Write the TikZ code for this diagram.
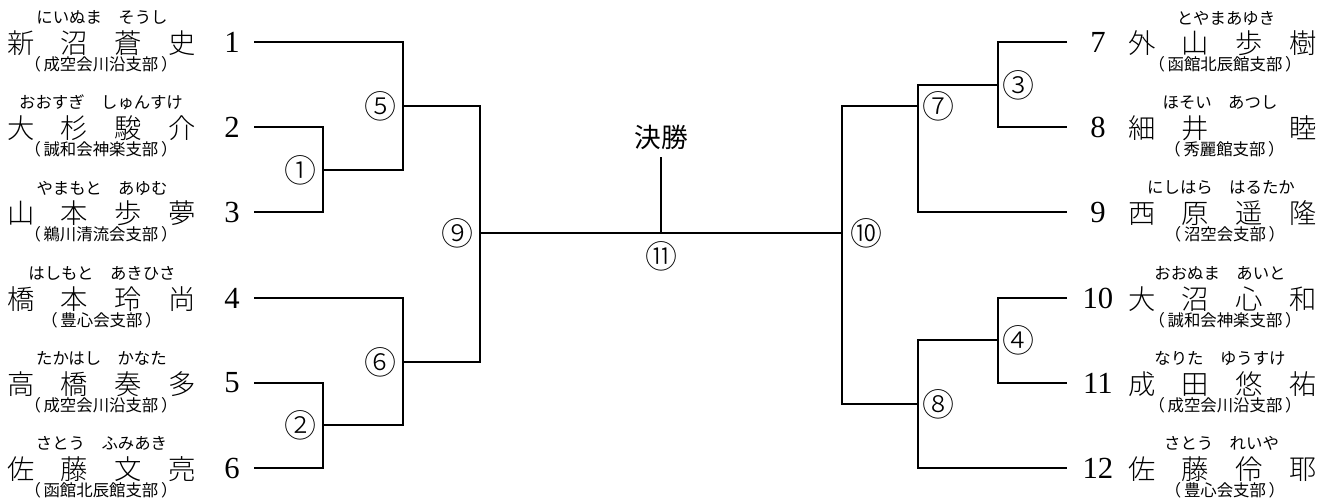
\documentclass[tikz,border=0pt]{standalone}
\usepackage{fontspec}
\newfontfamily\jpfont{Noto Sans CJK JP}
\newfontfamily\jplight{Noto Sans CJK JP Light}
\newfontfamily\numfont{Liberation Serif}
\usetikzlibrary{positioning}

\tikzset{every picture/.style={line width=1.4pt}}
\tikzset{
  num/.style={inner sep=0pt, minimum width=31.5pt, font=\numfont\fontsize{23}{23}\selectfont},
  namebox/.style={inner sep=0pt, font=\jplight\fontsize{20.5}{20.5}\selectfont},
  kana/.style={inner sep=0pt, font=\jpfont\fontsize{12.3}{12.3}\selectfont},
  team/.style={inner sep=0pt, font=\jpfont\fontsize{12.3}{12.3}\selectfont},
  rnd/.style={inner sep=0pt, font=\jplight\fontsize{24}{24}\selectfont},
  finalbox/.style={inner sep=0pt, font=\jpfont\fontsize{20}{20}\selectfont},
}
\newcommand\fourchars[4]{\makebox[40.3pt]{#1}\makebox[40.3pt]{#2}\makebox[40.3pt]{#3}\makebox[40.3pt]{#4}}
\newcommand\club[1]{（\hspace{2pt}#1\hspace{2pt}）}

\begin{document}
\begin{tikzpicture}[x=0.75pt,y=0.75pt,yscale=-1,xscale=1]
\path[use as bounding box] (0,0) rectangle (1336,503);

% Left players
\node[num, anchor=east] (p1) at (254,42) {1};
\node[namebox] (n1) at (101.5,43) {\fourchars{新}{沼}{蒼}{史}};
\node[kana] (k1) at (102,17) {にいぬま　そうし};
\node[team] (t1) at (101,64) {\club{成空会川沿支部}};

\node[num, anchor=east] (p2) at (254,127) {2};
\node[namebox] (n2) at (101.5,128) {\fourchars{大}{杉}{駿}{介}};
\node[kana] (k2) at (101,102) {おおすぎ　しゅんすけ};
\node[team] (t2) at (101,149) {\club{誠和会神楽支部}};

\node[num, anchor=east] (p3) at (254,212) {3};
\node[namebox] (n3) at (101.5,213) {\fourchars{山}{本}{歩}{夢}};
\node[kana] (k3) at (102,188) {やまもと　あゆむ};
\node[team] (t3) at (101,234) {\club{鵜川清流会支部}};

\node[num, anchor=east] (p4) at (254,298) {4};
\node[namebox] (n4) at (101.5,299) {\fourchars{橋}{本}{玲}{尚}};
\node[kana] (k4) at (102,273) {はしもと　あきひさ};
\node[team] (t4) at (101.5,320) {\club{豊心会支部}};

\node[num, anchor=east] (p5) at (254,383) {5};
\node[namebox] (n5) at (101.5,384) {\fourchars{高}{橋}{奏}{多}};
\node[kana] (k5) at (101.5,358) {たかはし　かなた};
\node[team] (t5) at (101,405) {\club{成空会川沿支部}};

\node[num, anchor=east] (p6) at (254,468) {6};
\node[namebox] (n6) at (101.5,469) {\fourchars{佐}{藤}{文}{亮}};
\node[kana] (k6) at (101.5,443) {さとう　ふみあき};
\node[team] (t6) at (101,490) {\club{函館北辰館支部}};

% Right players
\node[num, anchor=west, minimum width=45pt] (p7) at (1067,42) {7};
\node[namebox] (n7) at (1222.5,43) {\fourchars{外}{山}{歩}{樹}};
\node[kana] (k7) at (1226,18) {とやまあゆき};
\node[team] (t7) at (1225,64) {\club{函館北辰館支部}};

\node[num, anchor=west, minimum width=45pt] (p8) at (1067,127) {8};
\node[namebox] (n8) at (1222.5,128) {\fourchars{細}{井}{}{睦}};
\node[kana] (k8) at (1220,102) {ほそい　あつし};
\node[team] (t8) at (1224.5,149) {\club{秀麗館支部}};

\node[num, anchor=west, minimum width=45pt] (p9) at (1067,212) {9};
\node[namebox] (n9) at (1222.5,213) {\fourchars{西}{原}{遥}{隆}};
\node[kana] (k9) at (1221,188) {にしはら　はるたか};
\node[team] (t9) at (1225,234) {\club{沼空会支部}};

\node[num, anchor=west, minimum width=45pt] (p10) at (1067,298) {10};
\node[namebox] (n10) at (1222.5,299) {\fourchars{大}{沼}{心}{和}};
\node[kana] (k10) at (1220,273) {おおぬま　あいと};
\node[team] (t10) at (1225,320) {\club{誠和会神楽支部}};

\node[num, anchor=west, minimum width=45pt] (p11) at (1067,383) {11};
\node[namebox] (n11) at (1222.5,384) {\fourchars{成}{田}{悠}{祐}};
\node[kana] (k11) at (1220,358) {なりた　ゆうすけ};
\node[team] (t11) at (1225,405) {\club{成空会川沿支部}};

\node[num, anchor=west, minimum width=45pt] (p12) at (1067,468) {12};
\node[namebox] (n12) at (1222.5,469) {\fourchars{佐}{藤}{伶}{耶}};
\node[kana] (k12) at (1221.5,443) {さとう　れいや};
\node[team] (t12) at (1225,490) {\club{豊心会支部}};

% Match points
\coordinate (m1) at (323,170);
\coordinate (m2) at (323,425);
\coordinate (m5) at (403,106);
\coordinate (m6) at (403,362);
\coordinate (m9) at (480,233);
\coordinate (m3) at (998,85);
\coordinate (m4) at (998,340);
\coordinate (m7) at (918,106);
\coordinate (m8) at (918,404);
\coordinate (m10) at (842,233);
\coordinate (m11) at (661,233);
\coordinate (ft) at (661,157);

% Final
\node[finalbox] (final) at (661,137) {決勝};

% Left bracket
\draw (p1.east) -| (m5) |- (m1);
\draw (p2.east) -| (m1) |- (p3.east);
\draw (p4.east) -| (m6) |- (m2);
\draw (p5.east) -| (m2) |- (p6.east);
\draw (m5) -| (m9) |- (m6);
% Right bracket
\draw (p7.west) -| (m3) |- (p8.west);
\draw (m3) -| (m7) |- (p9.west);
\draw (p10.west) -| (m4) |- (p11.west);
\draw (m4) -| (m8) |- (p12.west);
\draw (m7) -| (m10) |- (m8);
% Centre
\draw (m9) -- (m11) -- (m10);
\draw (m11) -- (ft);

% Match numbers
\node[rnd, left=4pt of m1] (r1) {①};
\node[rnd, left=4pt of m2] (r2) {②};
\node[rnd, right=3pt of m3] (r3) {③};
\node[rnd, right=3pt of m4] (r4) {④};
\node[rnd, left=4pt of m5] (r5) {⑤};
\node[rnd, left=4pt of m6] (r6) {⑥};
\node[rnd, right=2.3pt of m7] (r7) {⑦};
\node[rnd, right=2.3pt of m8] (r8) {⑧};
\node[rnd, left=4pt of m9] (r9) {⑨};
\node[rnd, right=5.5pt of m10] (r10) {⑩};
\node[rnd, below=6pt of m11] (r11) {⑪};

\end{tikzpicture}
\end{document}
